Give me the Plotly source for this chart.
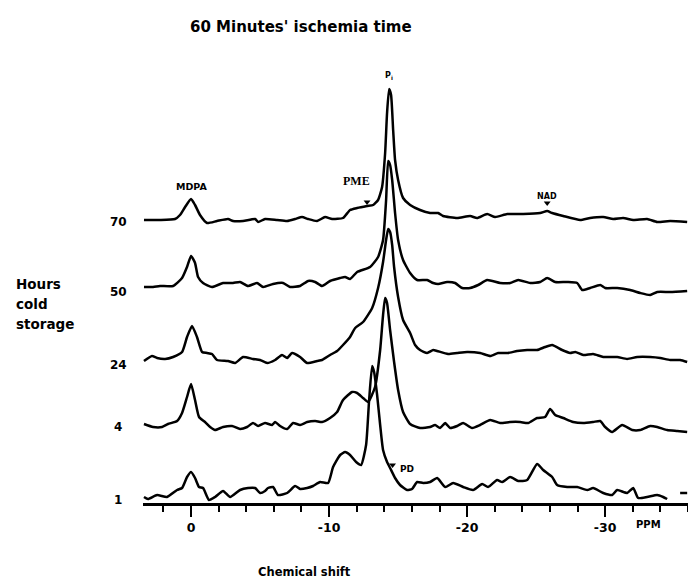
import plotly.graph_objects as go

# ---------------- data (chemical shift in ppm, intensity in arbitrary units above each baseline)
labels = ["1", "4", "24", "50", "70"]
offsets = [6, 76, 145, 217, 283]
label_y = [3, 76, 138, 211, 281]

shift_1 = [3.41, 3.12, 2.46, 1.74, 1.01, 0.65, 0.29, 0.0, -0.29, -0.58, -0.87, -1.30, -1.74, -2.32, -2.83,
           -3.55, -4.13, -4.64, -5.00, -5.36, -5.58, -5.94, -6.30, -6.96, -7.54, -7.90, -8.41, -8.84, -9.35,
           -9.93, -10.29, -10.80, -11.16, -11.52, -11.96, -12.32, -12.68, -12.90, -13.12, -13.26, -13.48,
           -13.70, -13.91, -14.20, -14.42, -14.78, -15.14, -15.65, -16.01, -16.38, -16.81, -17.32, -17.83,
           -18.41, -18.99, -19.71, -20.43, -21.09, -21.52, -22.17, -22.54, -23.12, -23.70, -24.35, -25.07,
           -25.51, -26.16, -26.52, -27.25, -27.97, -28.70, -29.13, -29.86, -30.51, -30.87, -31.59, -32.03,
           -32.39, -33.04, -33.77, -34.20, -34.49, None, -35.43, -35.94]
int_1 = [0, -2, 2, 0, 7, 9, 20, 25, 19, 10, 9, -3, 0, 6, 0,
         7, 9, 9, 4, 6, 9, 10, 2, 4, 11, 8, 9, 11, 15,
         14, 30, 42, 45, 42, 35, 32, 52, 97, 131, 125, 102,
         72, 47, 35, 29, 19, 12, 7, 8, 15, 14, 15, 19,
         10, 14, 10, 7, 13, 10, 17, 15, 20, 16, 17, 33,
         27, 20, 12, 10, 10, 7, 9, 4, 2, 7, 4, 9,
         -1, 0, 2, 0, -2, None, 4, 4]

shift_4 = [3.41, 2.75, 2.10, 1.67, 1.01, 0.65, 0.29, 0.0, -0.29, -0.58, -1.01, -1.38, -1.74, -2.32, -2.97,
           -3.55, -4.06, -4.49, -4.86, -5.36, -5.87, -6.09, -6.45, -6.96, -7.39, -7.90, -8.41, -8.99, -9.49,
           -10.07, -10.58, -11.01, -11.67, -12.03, -12.46, -12.83, -13.33, -13.70, -13.91, -14.06, -14.20,
           -14.42, -14.71, -15.00, -15.36, -15.87, -16.59, -17.32, -17.68, -18.04, -18.41, -18.77, -19.28,
           -19.71, -20.36, -20.94, -21.67, -22.39, -23.12, -23.84, -24.42, -25.07, -25.65, -26.01, -26.38,
           -26.96, -27.68, -28.41, -29.13, -29.64, -30.00, -30.51, -31.23, -31.96, -32.54, -33.26, -33.77,
           -34.49, -35.22, -35.94]
int_4 = [3, 0, 0, 3, 6, 14, 30, 43, 27, 10, 5, 0, -3, 0, 1,
         -2, 0, 4, 1, 4, 2, 5, 1, -2, 4, 2, 5, 6, 5,
         9, 15, 27, 35, 34, 29, 25, 40, 77, 112, 129, 124,
         97, 65, 37, 15, 3, -1, 0, 2, -1, 4, -1, 1,
         4, -1, 2, 7, 4, 5, 5, 4, 9, 10, 18, 12,
         9, 5, 4, 5, 6, 0, -5, 2, -3, -3, 1, 0,
         -3, -4, -5]

shift_24 = [3.41, 2.83, 2.46, 1.88, 1.30, 0.65, 0.29, -0.07, -0.43, -0.80, -1.16, -1.52, -1.88, -2.68, -3.19,
            -3.77, -4.49, -5.00, -5.51, -6.09, -6.59, -6.96, -7.32, -7.90, -8.41, -9.13, -9.49, -10.07, -10.58,
            -11.01, -11.52, -11.89, -12.46, -13.12, -13.55, -13.91, -14.13, -14.28, -14.42, -14.57, -14.71,
            -15.00, -15.36, -15.87, -16.23, -16.59, -17.10, -17.54, -17.83, -18.62, -19.28, -20.00, -20.94,
            -21.67, -22.25, -22.97, -23.62, -24.35, -25.07, -25.65, -26.16, -26.88, -27.46, -27.83, -28.41,
            -29.13, -29.86, -30.87, -31.59, -32.32, -33.26, -33.99, -34.71, -35.43, -35.94]
int_24 = [-3, 2, 0, -1, 1, 6, 21, 32, 21, 6, 5, 4, -2, -3, -5,
          1, -1, -2, -5, -2, 3, 0, 5, 1, -5, -3, -2, 3, 7,
          13, 21, 30, 36, 50, 70, 96, 118, 129, 126, 113, 91,
          61, 38, 25, 13, 8, 5, 8, 7, 4, 5, 6, 5,
          2, 5, 5, 7, 8, 8, 11, 13, 8, 5, 6, 3,
          4, 1, 1, -1, 1, 1, 0, -2, -2, -4]

shift_50 = [3.41, 2.75, 2.25, 1.30, 0.65, 0.29, 0.0, -0.29, -0.51, -0.87, -1.52, -2.32, -3.04, -3.55, -4.13,
            -4.78, -5.22, -5.94, -6.67, -7.17, -7.90, -8.48, -8.99, -9.49, -10.07, -10.80, -11.16, -11.52,
            -12.03, -12.97, -13.55, -13.91, -14.13, -14.28, -14.42, -14.57, -14.78, -15.00, -15.36, -15.87,
            -16.38, -17.10, -17.54, -17.90, -18.55, -19.13, -19.64, -20.22, -20.80, -21.45, -22.39, -23.12,
            -23.70, -24.57, -25.29, -25.80, -26.38, -27.25, -27.97, -28.33, -28.91, -29.64, -30.00, -30.87,
            -31.81, -32.54, -33.26, -33.77, -34.71, -35.94]
int_50 = [-1, -1, 0, 0, 8, 19, 30, 23, 9, 3, -1, 3, 3, 4, 0,
          3, -1, 2, 3, -1, 0, 5, 4, 0, 5, 8, 9, 7,
          14, 19, 29, 46, 86, 125, 121, 106, 73, 46, 26, 13,
          6, 6, 3, 2, 4, 3, -2, -2, 1, 6, 3, 3,
          6, 3, 4, 8, 4, 4, 3, -4, -2, 1, -2, -2,
          -4, -7, -9, -6, -6, -5]

shift_70 = [3.41, 2.25, 1.16, 0.80, 0.43, 0.0, -0.29, -0.65, -1.16, -1.88, -2.68, -3.04, -3.77, -4.64, -4.86,
            -5.36, -6.23, -6.96, -7.54, -8.04, -8.48, -9.13, -9.71, -10.22, -11.01, -11.52, -12.03, -12.75,
            -13.19, -13.55, -13.84, -14.06, -14.20, -14.35, -14.49, -14.64, -14.78, -15.00, -15.36, -15.87,
            -16.59, -17.32, -17.90, -18.26, -19.28, -20.22, -20.72, -21.45, -22.03, -22.90, -24.06, -25.29,
            -25.80, -26.16, -26.96, -28.19, -28.91, -29.86, -30.58, -31.30, -32.03, -33.04, -33.77, -34.71,
            -35.94]
int_70 = [0, 0, 1, 5, 13, 21, 15, 5, -3, -1, 1, -1, -1, 1, -2,
          1, 0, -1, 1, 3, 1, -1, 3, 1, 2, 10, 12, 14,
          15, 20, 33, 67, 107, 131, 125, 90, 60, 40, 22, 15,
          10, 7, 7, 4, 2, 4, 2, 6, 3, 6, 6, 7,
          9, 7, 4, 0, 2, 3, 1, 2, 0, 1, -2, -1,
          -2]

tick_vals = [0, -10, -20, -30]
tick_text = ["0", "-10", "-20", "-30"]

# peak label positions (ppm) for the small pointer marks
pointer_ppm = [-12.75, -25.8, -14.6]
pointer_trace = [4, 4, 0]
pointer_rise = [18, 17, 32]

shifts = [shift_1, shift_4, shift_24, shift_50, shift_70]
ints = [int_1, int_4, int_24, int_50, int_70]

FONT = "DejaVu Sans"
W, H = 688, 579
ML, MR, MT, MB = 143, 0, 60, 76
pw, ph = W - ML - MR, H - MT - MB

fig = go.Figure()
for s, v, off in zip(shifts, ints, offsets):
    y = [None if val is None else val + off for val in v]
    fig.add_trace(go.Scatter(x=s, y=y, mode="lines",
                             line=dict(color="black", width=2.5, shape="spline", smoothing=0.5),
                             connectgaps=False, showlegend=False, hoverinfo="skip"))

# small pointer markers for peak labels
fig.add_trace(go.Scatter(x=pointer_ppm,
                         y=[offsets[t] + r for t, r in zip(pointer_trace, pointer_rise)],
                         mode="markers",
                         marker=dict(symbol="triangle-down", size=6, color="black"),
                         showlegend=False, hoverinfo="skip"))


def txt(x, y, t, size, xanchor="center", family=FONT):
    fig.add_annotation(x=x, y=y, xref="x", yref="y", text=t, showarrow=False, xanchor=xanchor,
                       yanchor="middle", font=dict(family=family, size=size, color="black", weight="bold"))


def paper_text(px, py, t, size, xanchor="center", family=FONT):
    fig.add_annotation(x=(px - ML) / pw, y=(H - MB - py) / ph, xref="paper", yref="paper", text=t,
                       showarrow=False, xanchor=xanchor, yanchor="middle",
                       font=dict(family=family, size=size, color="black", weight="bold"))


for lab, ly in zip(labels, label_y):
    fig.add_annotation(x=-0.045, xref="paper", y=ly, yref="y", text=lab, showarrow=False,
                       xanchor="center", yanchor="middle",
                       font=dict(family=FONT, size=12, color="black", weight="bold"))

txt(0.0, 317, "MDPA", 9.5)
txt(-11.95, 322, "PME", 12, family="Liberation Serif")
txt(-14.35, 427, "P<sub>i</sub>", 8)
txt(-25.8, 307, "NAD", 8)
txt(-15.0, 34, "PD", 9, xanchor="left")

paper_text(648, 524, "PPM", 10)
paper_text(301, 27, "60 Minutes' ischemia time", 15)
paper_text(14, 284, "Hours", 13.5, xanchor="left")
paper_text(14, 304, "cold", 13.5, xanchor="left")
paper_text(14, 324, "storage", 13.5, xanchor="left")
paper_text(304, 572, "Chemical shift", 11.5)

fig.update_layout(
    width=W, height=H,
    margin=dict(l=ML, r=MR, t=MT, b=MB),
    paper_bgcolor="white", plot_bgcolor="white",
    xaxis=dict(range=[3.48, -36.0], showgrid=False, zeroline=False,
               showline=True, linecolor="black", linewidth=2.5,
               ticks="outside", ticklen=11, tickwidth=2, tickcolor="black",
               tickvals=tick_vals, ticktext=tick_text,
               tickfont=dict(family=FONT, size=12.5, color="black", weight="bold"),
               minor=dict(dtick=2, tick0=0, ticks="outside", ticklen=6, tickwidth=2, tickcolor="black")),
    yaxis=dict(range=[0, ph], visible=False),
)

fig.write_html("out.html", config={"displayModeBar": False},
               post_script="document.body.style.margin='0';")
